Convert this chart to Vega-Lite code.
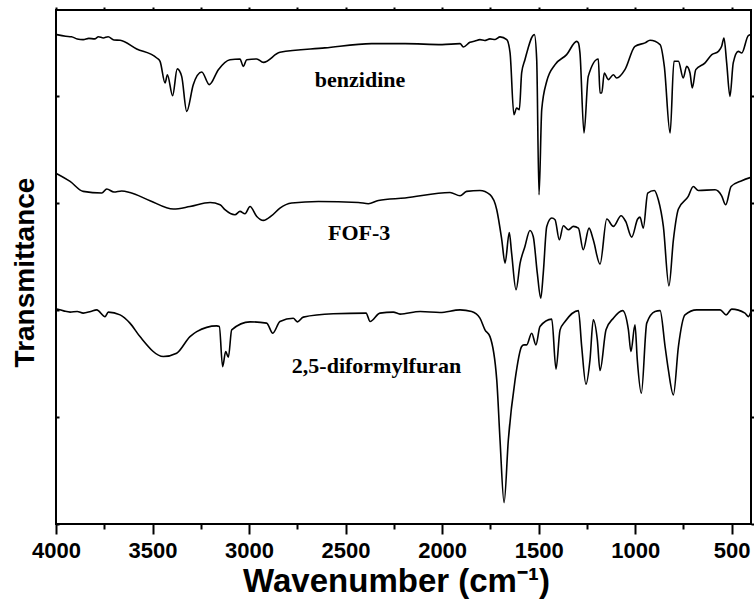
{
"$schema": "https://vega.github.io/schema/vega-lite/v6.json",
"width": 695, "height": 514,
"autosize": "none",
"padding": {"left": 56, "top": 10, "right": 3, "bottom": 77},
"background": "white",
"config": {"view": {"stroke": "black", "strokeWidth": 2}, "axis": {"domain": false, "grid": false, "tickColor": "black", "tickWidth": 2}},
"datasets": {
"spectra": [
{"s":"b","wn":3996,"t":4.57},{"s":"b","wn":3950,"t":4.555},{"s":"b","wn":3920,"t":4.55},{"s":"b","wn":3890,"t":4.53},{"s":"b","wn":3859,"t":4.523},{"s":"b","wn":3830,"t":4.535},{"s":"b","wn":3800,"t":4.53},{"s":"b","wn":3780,"t":4.55},{"s":"b","wn":3755,"t":4.539},{"s":"b","wn":3730,"t":4.55},{"s":"b","wn":3700,"t":4.52},{"s":"b","wn":3668,"t":4.517},{"s":"b","wn":3582,"t":4.436},{"s":"b","wn":3478,"t":4.352},{"s":"b","wn":3461,"t":4.321},{"s":"b","wn":3435,"t":4.119},{"s":"b","wn":3423,"t":4.196},{"s":"b","wn":3396,"t":4.0},{"s":"b","wn":3372,"t":4.25},{"s":"b","wn":3349,"t":4.18},{"s":"b","wn":3323,"t":3.853},{"s":"b","wn":3289,"t":4.103},{"s":"b","wn":3245,"t":4.221},{"s":"b","wn":3206,"t":4.103},{"s":"b","wn":3159,"t":4.243},{"s":"b","wn":3099,"t":4.336},{"s":"b","wn":3047,"t":4.343},{"s":"b","wn":3030,"t":4.274},{"s":"b","wn":3012,"t":4.336},{"s":"b","wn":2960,"t":4.343},{"s":"b","wn":2926,"t":4.311},{"s":"b","wn":2840,"t":4.405},{"s":"b","wn":2607,"t":4.446},{"s":"b","wn":2365,"t":4.486},{"s":"b","wn":2192,"t":4.486},{"s":"b","wn":2000,"t":4.477},{"s":"b","wn":1907,"t":4.486},{"s":"b","wn":1890,"t":4.455},{"s":"b","wn":1856,"t":4.498},{"s":"b","wn":1830,"t":4.51},{"s":"b","wn":1804,"t":4.523},{"s":"b","wn":1780,"t":4.515},{"s":"b","wn":1752,"t":4.53},{"s":"b","wn":1725,"t":4.525},{"s":"b","wn":1700,"t":4.549},{"s":"b","wn":1665,"t":4.523},{"s":"b","wn":1648,"t":4.399},{"s":"b","wn":1628,"t":3.822},{"s":"b","wn":1614,"t":3.885},{"s":"b","wn":1600,"t":3.869},{"s":"b","wn":1588,"t":4.212},{"s":"b","wn":1571,"t":4.336},{"s":"b","wn":1522,"t":4.57},{"s":"b","wn":1510,"t":4.336},{"s":"b","wn":1498,"t":3.075},{"s":"b","wn":1484,"t":3.869},{"s":"b","wn":1458,"t":4.134},{"s":"b","wn":1415,"t":4.29},{"s":"b","wn":1355,"t":4.383},{"s":"b","wn":1303,"t":4.507},{"s":"b","wn":1294,"t":4.493},{"s":"b","wn":1286,"t":4.399},{"s":"b","wn":1265,"t":3.651},{"s":"b","wn":1243,"t":4.18},{"s":"b","wn":1191,"t":4.343},{"s":"b","wn":1182,"t":4.025},{"s":"b","wn":1173,"t":4.025},{"s":"b","wn":1160,"t":4.212},{"s":"b","wn":1139,"t":4.15},{"s":"b","wn":1113,"t":4.196},{"s":"b","wn":1096,"t":4.165},{"s":"b","wn":1053,"t":4.243},{"s":"b","wn":1001,"t":4.461},{"s":"b","wn":949,"t":4.493},{"s":"b","wn":923,"t":4.517},{"s":"b","wn":871,"t":4.477},{"s":"b","wn":849,"t":4.274},{"s":"b","wn":819,"t":3.651},{"s":"b","wn":799,"t":4.321},{"s":"b","wn":776,"t":4.321},{"s":"b","wn":751,"t":4.165},{"s":"b","wn":733,"t":4.274},{"s":"b","wn":716,"t":4.212},{"s":"b","wn":704,"t":4.072},{"s":"b","wn":686,"t":4.243},{"s":"b","wn":638,"t":4.306},{"s":"b","wn":603,"t":4.383},{"s":"b","wn":569,"t":4.414},{"s":"b","wn":552,"t":4.461},{"s":"b","wn":540,"t":4.539},{"s":"b","wn":526,"t":4.306},{"s":"b","wn":509,"t":3.993},{"s":"b","wn":492,"t":4.306},{"s":"b","wn":466,"t":4.414},{"s":"b","wn":448,"t":4.399},{"s":"b","wn":414,"t":4.561},{"s":"b","wn":400,"t":4.57},
{"s":"f","wn":3996,"t":3.271},{"s":"f","wn":3927,"t":3.199},{"s":"f","wn":3859,"t":3.106},{"s":"f","wn":3763,"t":3.091},{"s":"f","wn":3737,"t":3.128},{"s":"f","wn":3700,"t":3.1},{"s":"f","wn":3660,"t":3.11},{"s":"f","wn":3617,"t":3.096},{"s":"f","wn":3513,"t":3.019},{"s":"f","wn":3392,"t":2.941},{"s":"f","wn":3306,"t":2.965},{"s":"f","wn":3202,"t":3.003},{"s":"f","wn":3150,"t":2.981},{"s":"f","wn":3125,"t":2.935},{"s":"f","wn":3073,"t":2.888},{"s":"f","wn":3047,"t":2.919},{"s":"f","wn":3021,"t":2.897},{"s":"f","wn":2995,"t":2.965},{"s":"f","wn":2960,"t":2.872},{"s":"f","wn":2926,"t":2.835},{"s":"f","wn":2883,"t":2.879},{"s":"f","wn":2840,"t":2.95},{"s":"f","wn":2779,"t":2.997},{"s":"f","wn":2641,"t":3.012},{"s":"f","wn":2434,"t":3.003},{"s":"f","wn":2382,"t":2.991},{"s":"f","wn":2330,"t":3.021},{"s":"f","wn":2192,"t":3.044},{"s":"f","wn":1959,"t":3.096},{"s":"f","wn":1907,"t":3.065},{"s":"f","wn":1873,"t":3.106},{"s":"f","wn":1804,"t":3.115},{"s":"f","wn":1752,"t":3.075},{"s":"f","wn":1717,"t":2.935},{"s":"f","wn":1691,"t":2.654},{"s":"f","wn":1674,"t":2.436},{"s":"f","wn":1652,"t":2.722},{"s":"f","wn":1640,"t":2.53},{"s":"f","wn":1617,"t":2.187},{"s":"f","wn":1596,"t":2.436},{"s":"f","wn":1571,"t":2.592},{"s":"f","wn":1545,"t":2.741},{"s":"f","wn":1528,"t":2.685},{"s":"f","wn":1507,"t":2.343},{"s":"f","wn":1489,"t":2.109},{"s":"f","wn":1476,"t":2.343},{"s":"f","wn":1458,"t":2.779},{"s":"f","wn":1432,"t":2.857},{"s":"f","wn":1415,"t":2.841},{"s":"f","wn":1393,"t":2.654},{"s":"f","wn":1372,"t":2.785},{"s":"f","wn":1346,"t":2.748},{"s":"f","wn":1320,"t":2.779},{"s":"f","wn":1294,"t":2.763},{"s":"f","wn":1269,"t":2.561},{"s":"f","wn":1239,"t":2.763},{"s":"f","wn":1217,"t":2.654},{"s":"f","wn":1182,"t":2.427},{"s":"f","wn":1147,"t":2.848},{"s":"f","wn":1113,"t":2.779},{"s":"f","wn":1073,"t":2.879},{"s":"f","wn":1049,"t":2.825},{"s":"f","wn":1018,"t":2.679},{"s":"f","wn":987,"t":2.848},{"s":"f","wn":975,"t":2.866},{"s":"f","wn":958,"t":2.763},{"s":"f","wn":935,"t":3.091},{"s":"f","wn":901,"t":3.115},{"s":"f","wn":880,"t":3.028},{"s":"f","wn":854,"t":2.779},{"s":"f","wn":825,"t":2.224},{"s":"f","wn":802,"t":2.654},{"s":"f","wn":776,"t":2.941},{"s":"f","wn":725,"t":3.059},{"s":"f","wn":699,"t":3.152},{"s":"f","wn":673,"t":3.115},{"s":"f","wn":586,"t":3.121},{"s":"f","wn":552,"t":3.065},{"s":"f","wn":531,"t":2.981},{"s":"f","wn":503,"t":3.152},{"s":"f","wn":448,"t":3.206},{"s":"f","wn":400,"t":3.237},
{"s":"d","wn":3996,"t":2.007},{"s":"d","wn":3960,"t":1.99},{"s":"d","wn":3927,"t":1.979},{"s":"d","wn":3890,"t":1.985},{"s":"d","wn":3859,"t":1.969},{"s":"d","wn":3820,"t":1.985},{"s":"d","wn":3789,"t":2.0},{"s":"d","wn":3746,"t":1.937},{"s":"d","wn":3729,"t":1.979},{"s":"d","wn":3668,"t":1.953},{"s":"d","wn":3617,"t":1.876},{"s":"d","wn":3565,"t":1.75},{"s":"d","wn":3444,"t":1.564},{"s":"d","wn":3375,"t":1.595},{"s":"d","wn":3306,"t":1.75},{"s":"d","wn":3271,"t":1.797},{"s":"d","wn":3168,"t":1.85},{"s":"d","wn":3154,"t":1.844},{"s":"d","wn":3137,"t":1.47},{"s":"d","wn":3121,"t":1.61},{"s":"d","wn":3107,"t":1.558},{"s":"d","wn":3090,"t":1.813},{"s":"d","wn":2995,"t":1.888},{"s":"d","wn":2909,"t":1.876},{"s":"d","wn":2877,"t":1.782},{"s":"d","wn":2840,"t":1.891},{"s":"d","wn":2771,"t":1.922},{"s":"d","wn":2750,"t":1.888},{"s":"d","wn":2719,"t":1.932},{"s":"d","wn":2564,"t":1.963},{"s":"d","wn":2394,"t":1.969},{"s":"d","wn":2373,"t":1.891},{"s":"d","wn":2322,"t":1.969},{"s":"d","wn":2253,"t":1.979},{"s":"d","wn":2218,"t":1.96},{"s":"d","wn":2114,"t":1.984},{"s":"d","wn":2011,"t":1.975},{"s":"d","wn":1907,"t":2.0},{"s":"d","wn":1847,"t":1.984},{"s":"d","wn":1804,"t":1.922},{"s":"d","wn":1778,"t":1.813},{"s":"d","wn":1752,"t":1.75},{"s":"d","wn":1717,"t":1.346},{"s":"d","wn":1700,"t":0.785},{"s":"d","wn":1679,"t":0.199},{"s":"d","wn":1657,"t":0.785},{"s":"d","wn":1622,"t":1.346},{"s":"d","wn":1588,"t":1.657},{"s":"d","wn":1576,"t":1.673},{"s":"d","wn":1562,"t":1.673},{"s":"d","wn":1536,"t":1.782},{"s":"d","wn":1514,"t":1.673},{"s":"d","wn":1493,"t":1.844},{"s":"d","wn":1432,"t":1.913},{"s":"d","wn":1410,"t":1.446},{"s":"d","wn":1389,"t":1.813},{"s":"d","wn":1363,"t":1.891},{"s":"d","wn":1294,"t":1.993},{"s":"d","wn":1277,"t":1.657},{"s":"d","wn":1255,"t":1.306},{"s":"d","wn":1234,"t":1.533},{"s":"d","wn":1217,"t":1.907},{"s":"d","wn":1196,"t":1.72},{"s":"d","wn":1182,"t":1.433},{"s":"d","wn":1151,"t":1.813},{"s":"d","wn":1113,"t":1.922},{"s":"d","wn":1065,"t":1.993},{"s":"d","wn":1035,"t":1.813},{"s":"d","wn":1022,"t":1.61},{"s":"d","wn":1001,"t":1.86},{"s":"d","wn":989,"t":1.533},{"s":"d","wn":968,"t":1.221},{"s":"d","wn":940,"t":1.876},{"s":"d","wn":897,"t":1.984},{"s":"d","wn":871,"t":1.993},{"s":"d","wn":845,"t":1.657},{"s":"d","wn":828,"t":1.439},{"s":"d","wn":802,"t":1.206},{"s":"d","wn":776,"t":1.657},{"s":"d","wn":742,"t":1.953},{"s":"d","wn":681,"t":2.0},{"s":"d","wn":560,"t":2.0},{"s":"d","wn":529,"t":1.953},{"s":"d","wn":500,"t":2.007},{"s":"d","wn":431,"t":1.969},{"s":"d","wn":414,"t":1.937},{"s":"d","wn":400,"t":1.984}
],
"labels": [
{"label":"benzidine","wn":2425,"t":4.084},
{"label":"FOF-3","wn":2430,"t":2.654},
{"label":"2,5-diformylfuran","wn":2340,"t":1.411}
]
},
"layer": [
{
"data": {"name": "spectra"},
"mark": {"type": "line", "color": "black", "strokeWidth": 1.6, "interpolate": "monotone", "clip": true},
"encoding": {
"x": {"field": "wn", "type": "quantitative", "scale": {"domain": [400, 4000], "reverse": true, "nice": false, "zero": false},
"axis": {"orient": "bottom", "values": [4000,3750,3500,3250,3000,2750,2500,2250,2000,1750,1500,1250,1000,750,500], "format": "d",
"tickSize": {"condition": {"test": "datum.value % 500 === 0", "value": 10}, "value": 5},
"labelExpr": "datum.value % 500 === 0 ? datum.label : ''",
"labelFont": "Liberation Sans", "labelFontWeight": "bold", "labelFontSize": 22, "labelColor": "black", "labelPadding": 6, "labelFlush": false, "labelOverlap": false,
"title": "Wavenumber (cm⁻¹)", "titleFont": "Liberation Sans", "titleFontSize": 33, "titleFontWeight": "bold", "titleColor": "black", "titlePadding": 4, "titleX": 340, "titleAlign": "center"}},
"y": {"field": "t", "type": "quantitative", "scale": {"domain": [0, 4.8], "nice": false, "zero": false},
"axis": {"orient": "left", "values": [0,1,2,3,4], "labels": false, "tickSize": -3,
"title": "Transmittance", "titleFont": "Liberation Sans", "titleFontSize": 28, "titleFontWeight": "bold", "titleColor": "black", "titleX": -31, "titleY": 262, "titleAlign": "center", "titleBaseline": "middle", "titleAngle": -90}},
"detail": {"field": "s"}
}
},
{
"data": {"name": "labels"},
"mark": {"type": "text", "font": "Liberation Serif", "fontWeight": "bold", "fontSize": 22, "align": "center", "baseline": "alphabetic", "color": "black"},
"encoding": {
"x": {"field": "wn", "type": "quantitative", "scale": {"domain": [400, 4000], "reverse": true, "nice": false, "zero": false},
"axis": {"orient": "top", "values": [4000,3750,3500,3250,3000,2750,2500,2250,2000,1750,1500,1250,1000,750,500], "labels": false, "tickSize": 3, "title": null}},
"y": {"field": "t", "type": "quantitative", "scale": {"domain": [0, 4.8], "nice": false, "zero": false},
"axis": {"orient": "right", "values": [0,1,2,3,4], "labels": false, "tickSize": 3, "title": null}},
"text": {"field": "label"}
}
}
],
"resolve": {"axis": {"x": "independent", "y": "independent"}}
}
